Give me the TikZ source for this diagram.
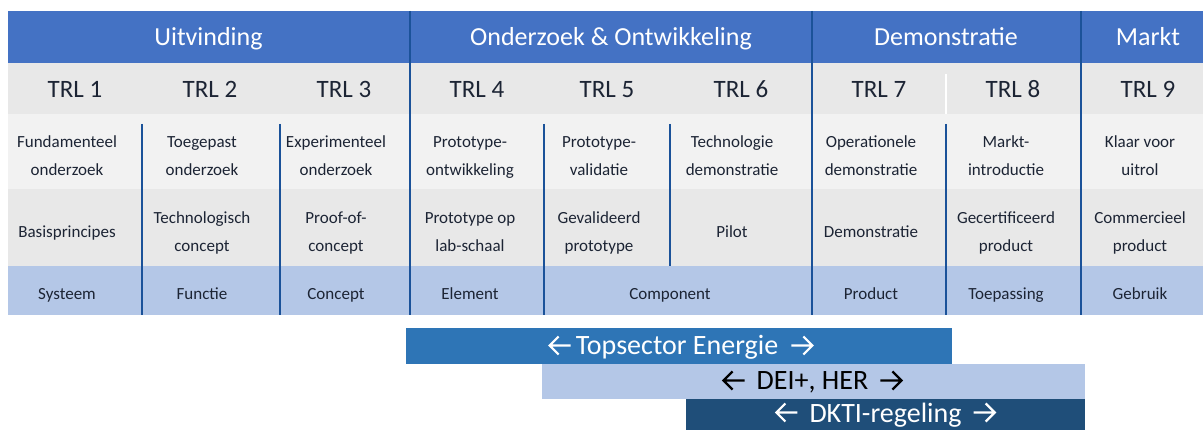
\documentclass[tikz,border=0pt]{standalone}
\usepackage{fontspec}
\usetikzlibrary{calc}
\setmainfont{Carlito}
\definecolor{hdrblue}{HTML}{4472C4}
\definecolor{trlgrey}{HTML}{E8E8E8}
\definecolor{lightgrey}{HTML}{F2F2F2}
\definecolor{midgrey}{HTML}{E8E8E8}
\definecolor{paleblue}{HTML}{B4C7E7}
\definecolor{rulec}{HTML}{1B5299}
\definecolor{txtc}{HTML}{1C2434}
\definecolor{topsec}{HTML}{2E75B6}
\definecolor{dkti}{HTML}{1F4E79}
\tikzset{
  hdrtext/.style={anchor=base, text=white, inner sep=0pt, font=\fontsize{26}{26}\selectfont},
  trltext/.style={anchor=base, text=txtc, inner sep=0pt, font=\fontsize{25}{25}\selectfont},
  celltext/.style={anchor=base, text=txtc, inner sep=0pt, font=\fontsize{17}{17}\selectfont},
  bartext/.style={anchor=base, inner sep=0pt, font=\fontsize{28}{28}\selectfont},
  rule/.style={draw=rulec, line width=2pt},
  whiterule/.style={draw=white, line width=2pt},
  arrowline/.style={line width=2.2pt, line cap=butt, line join=miter},
}
% right arrow starting (tail) at #2, colour #1
\newcommand{\rarrowat}[2]{\draw[arrowline, draw=#1] #2 -- ++(21,0) ++(-9,-9) -- ++(9,9) -- ++(-9,9);}
% left arrow ending (tail) at #2, colour #1
\newcommand{\larrowat}[2]{\draw[arrowline, draw=#1] #2 -- ++(-21,0) ++(9,-9) -- ++(-9,9) -- ++(9,9);}
\begin{document}
\begin{tikzpicture}[x=1pt,y=-1pt]
\useasboundingbox (0,0) rectangle (1203,430);
\clip (0,0) rectangle (1203,430);
% backgrounds
\fill[hdrblue] (8,11) rectangle (1215,63);
\fill[trlgrey] (8,63) rectangle (1215,114);
\fill[lightgrey] (8,114) rectangle (1215,189);
\fill[midgrey] (8,189) rectangle (1215,266);
\fill[paleblue] (8,266) rectangle (1215,315);
% rules
\foreach \x in {410,812,1081} \draw[rule] (\x,11) -- (\x,315);
\foreach \x in {142,280,544,946} \draw[rule] (\x,124) -- (\x,315);
\draw[rule] (670,124) -- (670,266);
\draw[whiterule] (946,74) -- (946,114);
% header
\node[hdrtext] (h1) at (208.5,46) {Uitvinding};
\node[hdrtext] (h2) at (611,46) {Onderzoek \& Ontwikkeling};
\node[hdrtext] (h3) at (946,46) {Demonstratie};
\node[hdrtext] (h4) at (1148,46) {Markt};
% TRL row
\foreach \x/\n in {75/1,210/2,344/3,477/4,607/5,741/6,879/7,1013/8,1148/9}
  \node[trltext] (trl\n) at (\x,98) {TRL \n};
% row 3
\foreach \x/\a/\b/\n in {67/Fundamenteel/onderzoek/1,202/Toegepast/onderzoek/2,336/Experimenteel/onderzoek/3,470/Prototype-/ontwikkeling/4,599/Prototype-/validatie/5,732/Technologie/demonstratie/6,871/Operationele/demonstratie/7,1006/Markt-/introductie/8,1140/Klaar voor/uitrol/9}{
  \node[celltext] (ra\n) at (\x,148) {\a};
  \node[celltext] (rb\n) at (\x,175.5) {\b};
}
% row 4
\node[celltext] (sa1) at (67,238) {Basisprincipes};
\foreach \x/\a/\b/\n in {202/Technologisch/concept/2,336/Proof-of-/concept/3,470/Prototype op/lab-schaal/4,599/Gevalideerd/prototype/5,1006/Gecertificeerd/product/8,1140/Commercieel/product/9}{
  \node[celltext] (sa\n) at (\x,223.5) {\a};
  \node[celltext] (sb\n) at (\x,252) {\b};
}
\node[celltext] (sa6) at (732,238) {Pilot};
\node[celltext] (sa7) at (871,238) {Demonstratie};
% blue row
\foreach \x/\t/\n in {67/Systeem/1,202/Functie/2,336/Concept/3,470/Element/4,670/Component/5,871/Product/7,1006/Toepassing/8,1140/Gebruik/9}
  \node[celltext] (b\n) at (\x,300) {\t};
% bottom bars
\fill[topsec] (406,328) rectangle (952,364);
\fill[paleblue] (542,364) rectangle (1085,399);
\fill[dkti] (686,399) rectangle (1085,440);
\node[bartext, text=white] (topsector) at (677,355) {Topsector Energie};
\node[bartext, text=black] (dei) at (812.5,390) {DEI+, HER};
\node[bartext, text=white] (dktireg) at (885.5,422) {DKTI-regeling};
\larrowat{white}{($(topsector.base west)+(-5,-9.5)$)}
\rarrowat{white}{($(topsector.base east)+(13,-9.5)$)}
\larrowat{black}{($(dei.base west)+(-12,-9.5)$)}
\rarrowat{black}{($(dei.base east)+(12,-9.5)$)}
\larrowat{white}{($(dktireg.base west)+(-12,-9.5)$)}
\rarrowat{white}{($(dktireg.base east)+(12,-9.5)$)}
\end{tikzpicture}
\end{document}
